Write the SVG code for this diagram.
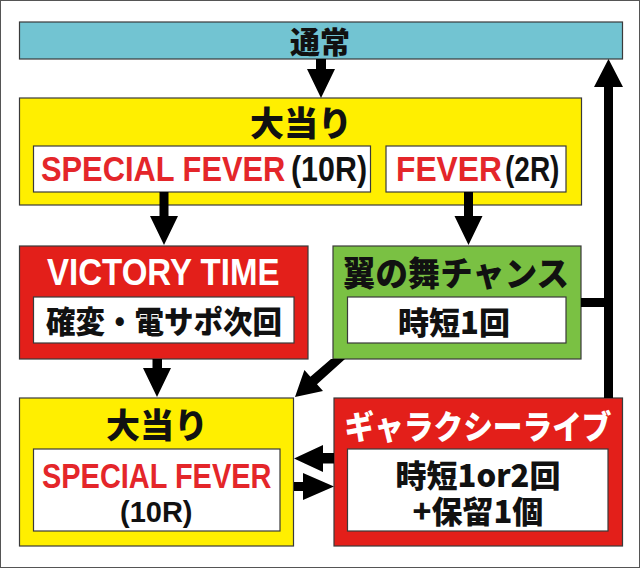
<svg xmlns="http://www.w3.org/2000/svg" width="640" height="568" viewBox="0 0 640 568">
<style>
.box{stroke:#3a3a3a;stroke-width:1.2}
.cy{fill:#72C4D2}
.ye{fill:#FFEF00}
.rd{fill:#E31F1A}
.gr{fill:#7AC143}
.wh{fill:#FFFFFF}
.jp{font-family:"Noto Sans CJK JP","Noto Sans CJK SC",sans-serif;font-weight:900;text-anchor:middle;dominant-baseline:central}
.en{font-family:"Liberation Sans",Arial,sans-serif;font-weight:700}
.red{fill:#E4262A}
.blk{fill:#111111}
.wt{fill:#FFFFFF}
.arr{fill:#000000}
</style>
<rect x="0.5" y="0.5" width="639" height="567" fill="#FFFFFF" stroke="#555555" stroke-width="1"/>

<g id="normal">
<rect class="box cy" x="19.5" y="22" width="603" height="37"/>
<text class="jp blk" x="320" y="40" font-size="30">通常</text>
</g>

<g id="jackpot1">
<rect class="box ye" x="19.5" y="98" width="562" height="107"/>
<text class="jp blk" x="301" y="121" font-size="34">大当り</text>
<rect class="box wh" x="33.5" y="146" width="337" height="46"/>
<text class="en red" transform="translate(41,181) scale(0.881,1)" font-size="35">SPECIAL FEVER</text>
<text class="en blk" transform="translate(291,181) scale(0.869,1)" font-size="35">(10R)</text>
<rect class="box wh" x="386" y="146" width="180" height="46"/>
<text class="en red" transform="translate(396,181) scale(0.908,1)" font-size="35">FEVER</text>
<text class="en blk" transform="translate(505,181) scale(0.8,1)" font-size="35">(2R)</text>
</g>

<g id="victory">
<rect class="box rd" x="19.5" y="246" width="288.5" height="113"/>
<text class="en wt" transform="translate(47,285) scale(0.893,1)" font-size="37">VICTORY TIME</text>
<rect class="box wh" x="33.5" y="297" width="260.5" height="46"/>
<text class="jp blk" x="164" y="319.5" font-size="31" textLength="236" lengthAdjust="spacingAndGlyphs">確変・電サポ次回</text>
</g>

<g id="tsubasa">
<rect class="box gr" x="333" y="246" width="248" height="113"/>
<text class="jp blk" x="456" y="271" font-size="34" textLength="226" lengthAdjust="spacingAndGlyphs">翼の舞チャンス</text>
<rect class="box wh" x="347.5" y="297" width="218.5" height="46"/>
<text class="jp blk" x="454" y="320" font-size="31" textLength="112" lengthAdjust="spacingAndGlyphs">時短1回</text>
</g>

<g id="jackpot2">
<rect class="box ye" x="19.5" y="398" width="274" height="148"/>
<text class="jp blk" x="157" y="423" font-size="34">大当り</text>
<rect class="box wh" x="33.5" y="449" width="246.5" height="82"/>
<text class="en red" transform="translate(42,488) scale(0.827,1)" font-size="35">SPECIAL FEVER</text>
<text class="en blk" x="120" y="522" font-size="29">(10R)</text>
</g>

<g id="galaxy">
<rect class="box rd" x="334" y="398" width="288.5" height="148"/>
<text class="jp wt" x="478" y="425" font-size="33" textLength="267" lengthAdjust="spacingAndGlyphs">ギャラクシーライブ</text>
<rect class="box wh" x="347.5" y="449" width="260.5" height="82"/>
<text class="jp blk" font-size="31"><tspan x="478" y="472.5">時短1or2回</tspan><tspan x="478" y="509">+保留1個</tspan></text>
</g>

<g id="connectors">
<polygon class="arr" points="316,59 326,59 326,69 335,69 321,98 307,69 316,69"/>
<polygon class="arr" points="159.5,192 168.5,192 168.5,216 178,216 164,245 150,216 159.5,216"/>
<polygon class="arr" points="464,192 473,192 473,216 482.5,216 468.5,245 454.5,216 464,216"/>
<polygon class="arr" points="152.5,359 162,359 162,368 171,368 157,397 143,368 152.5,368"/>
<polygon class="arr" points="331,359 345,359 317,384.2 323,391 295,397 304.4,370 310.4,376.8"/>
<polygon class="arr" points="334,453 323,453 323,445 294,458.5 323,472 323,463.5 334,463.5"/>
<polygon class="arr" points="294,482 303,482 303,473 334,486.5 303,500 303,491 294,491"/>
<rect class="arr" x="581" y="298" width="28" height="9"/>
<polygon class="arr" points="604,398 613,398 613,87 623,87 608.5,59 594,87 604,87"/>
</g>
</svg>
